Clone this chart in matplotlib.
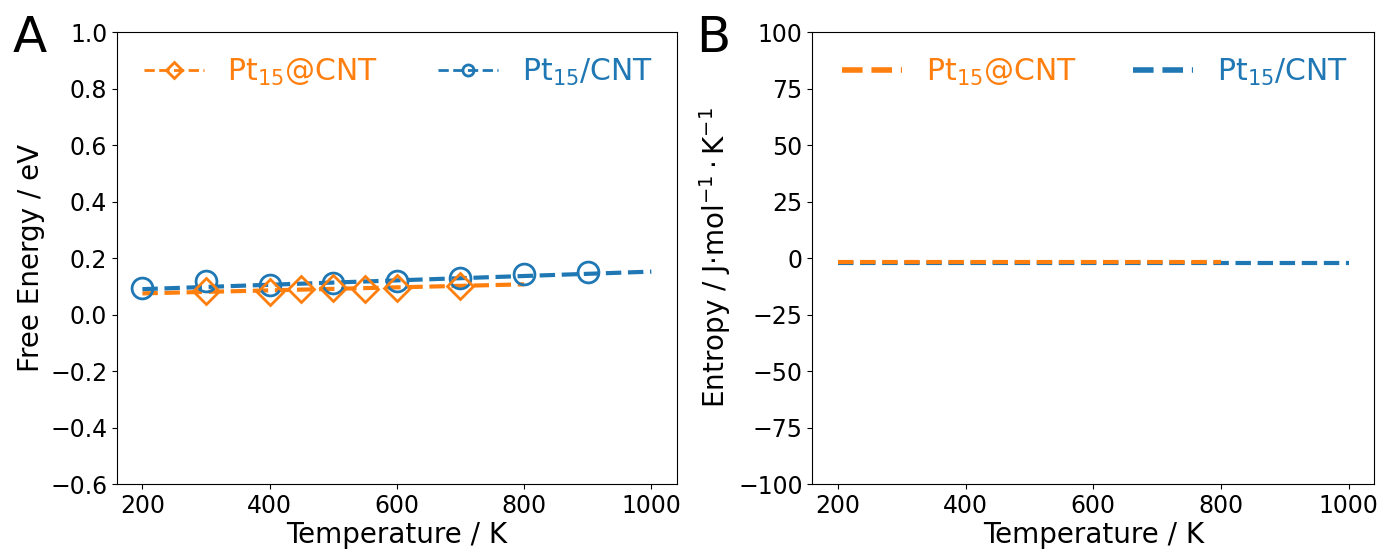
import matplotlib
matplotlib.use('Agg')
from matplotlib import pyplot as plt
from matplotlib.lines import Line2D

# panel A: free energy points
T_in = [300, 400, 450, 500, 550, 600, 700]
G_in = [0.085, 0.080, 0.090, 0.095, 0.090, 0.095, 0.100]
T_out = [200, 300, 400, 500, 600, 700, 800, 900]
G_out = [0.095, 0.120, 0.105, 0.110, 0.120, 0.130, 0.145, 0.150]

# linear fit end points
fitT_in = [200, 800]
fitG_in = [0.075, 0.107]
fitT_out = [200, 1000]
fitG_out = [0.090, 0.152]

# panel B: entropy
S_T_in = [200, 800]
S_in = [-1.8, -1.8]
S_T_out = [200, 1000]
S_out = [-2.3, -2.3]

orange = '#ff7f0e'
blue = '#1f77b4'
labels = ['Pt$_{15}$@CNT', 'Pt$_{15}$/CNT']

plt.rcParams['font.family'] = 'DejaVu Sans'
fig = plt.figure(figsize=(13.84, 5.52), dpi=100)
axA = fig.add_axes([0.0845, 0.123, 0.4045, 0.819])
axB = fig.add_axes([0.587, 0.123, 0.406, 0.819])

# ---- A ----
axA.plot(fitT_in, fitG_in, '--', color=orange, lw=3)
axA.plot(fitT_out, fitG_out, '--', color=blue, lw=3)
axA.plot(T_out, G_out, 'o', ms=15, mfc='none', mec=blue, mew=2)
axA.plot(T_in, G_in, 'D', ms=13, mfc='none', mec=orange, mew=2)
axA.set_xlim(160, 1040)
axA.set_ylim(-0.6, 1.0)
axA.set_xticks([200, 400, 600, 800, 1000])
axA.set_xlabel('Temperature / K', fontsize=20, labelpad=2)
axA.set_ylabel('Free Energy / eV', fontsize=20)

hA = [Line2D([], [], ls='--', color=orange, lw=2, marker='D', ms=8, mfc='none', mew=2),
      Line2D([], [], ls='--', color=blue, lw=2, marker='o', ms=8, mfc='none', mew=2)]
axA.legend(hA, labels, ncol=2, frameon=False,
           fontsize=21.5, labelcolor='linecolor', loc='upper left',
           bbox_to_anchor=(0.0, 1.005), columnspacing=2.0, handlelength=2.0)
fig.text(0.009, 0.906, 'A', fontsize=36)

# ---- B ----
axB.plot(S_T_out, S_out, '--', color=blue, lw=3)
axB.plot(S_T_in, S_in, '--', color=orange, lw=3)
axB.set_xlim(160, 1040)
axB.set_ylim(-100, 100)
axB.set_xticks([200, 400, 600, 800, 1000])
axB.set_yticks(range(-100, 101, 25))
axB.set_xlabel('Temperature / K', fontsize=20, labelpad=2)
axB.set_ylabel(r'Entropy / J$\cdot$mol$^{-1}\cdot$K$^{-1}$', fontsize=20)

hB = [Line2D([], [], ls='--', color=orange, lw=4),
      Line2D([], [], ls='--', color=blue, lw=4)]
axB.legend(hB, labels, ncol=2, frameon=False,
           fontsize=21.5, labelcolor='linecolor', loc='upper left',
           bbox_to_anchor=(0.005, 1.005), columnspacing=1.9, handlelength=2.0)
fig.text(0.503, 0.906, 'B', fontsize=36)

for ax in (axA, axB):
    ax.tick_params(labelsize=17)

fig.savefig('out.png', dpi=100)
